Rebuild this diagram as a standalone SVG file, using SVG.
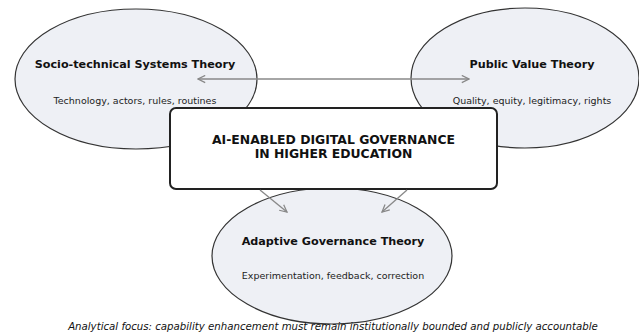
<svg xmlns="http://www.w3.org/2000/svg" width="639" height="335" viewBox="0 0 639 335">
  <style>
    .theory { fill: #eef0f5; stroke: #333333; stroke-width: 1.2; }
    .title { font-family: "DejaVu Sans", sans-serif; font-weight: bold; font-size: 11.2px; fill: #111111; text-anchor: middle; }
    .sub { font-family: "DejaVu Sans", sans-serif; font-size: 9.5px; fill: #222222; text-anchor: middle; }
    .core { fill: #ffffff; stroke: #222222; stroke-width: 2; }
    .coretext { font-family: "DejaVu Sans", sans-serif; font-weight: bold; font-size: 12.4px; fill: #111111; text-anchor: middle; }
    .link { stroke: #888888; stroke-width: 1.3; fill: none; }
    .caption { font-family: "DejaVu Sans", sans-serif; font-style: italic; font-size: 10.2px; fill: #111111; text-anchor: middle; }
  </style>
  <defs>
    <marker id="head" viewBox="0 0 10 10" refX="9" refY="5" markerWidth="9" markerHeight="9" markerUnits="userSpaceOnUse" orient="auto-start-reverse">
      <path d="M1,1 L9,5 L1,9" fill="none" stroke="#888888" stroke-width="1.4"/>
    </marker>
  </defs>

  <rect width="639" height="335" fill="#ffffff"/>

  <g id="socio-technical">
    <ellipse class="theory" cx="136" cy="79" rx="121" ry="70"/>
    <text class="title" x="135" y="68">Socio-technical Systems Theory</text>
    <text class="sub" x="135" y="104">Technology, actors, rules, routines</text>
  </g>

  <g id="public-value">
    <ellipse class="theory" cx="525" cy="78" rx="114" ry="70"/>
    <text class="title" x="532" y="68">Public Value Theory</text>
    <text class="sub" x="532" y="104">Quality, equity, legitimacy, rights</text>
  </g>

  <g id="adaptive-governance">
    <ellipse class="theory" cx="332" cy="256" rx="120" ry="68"/>
    <text class="title" x="333" y="245">Adaptive Governance Theory</text>
    <text class="sub" x="333" y="279">Experimentation, feedback, correction</text>
  </g>

  <g id="connectors">
    <line class="link" x1="198" y1="79" x2="469" y2="79" marker-start="url(#head)" marker-end="url(#head)"/>
  </g>

  <g id="core">
    <rect class="core" x="170" y="108" width="327" height="81" rx="6"/>
    <text class="coretext" x="333.5" y="144">AI-ENABLED DIGITAL GOVERNANCE</text>
    <text class="coretext" x="333.5" y="158">IN HIGHER EDUCATION</text>
  </g>

  <g id="connectors-down">
    <line class="link" x1="260" y1="190" x2="287" y2="212" marker-end="url(#head)"/>
    <line class="link" x1="407" y1="190" x2="382" y2="212" marker-end="url(#head)"/>
  </g>

  <text class="caption" x="333" y="330">Analytical focus: capability enhancement must remain institutionally bounded and publicly accountable</text>
</svg>
